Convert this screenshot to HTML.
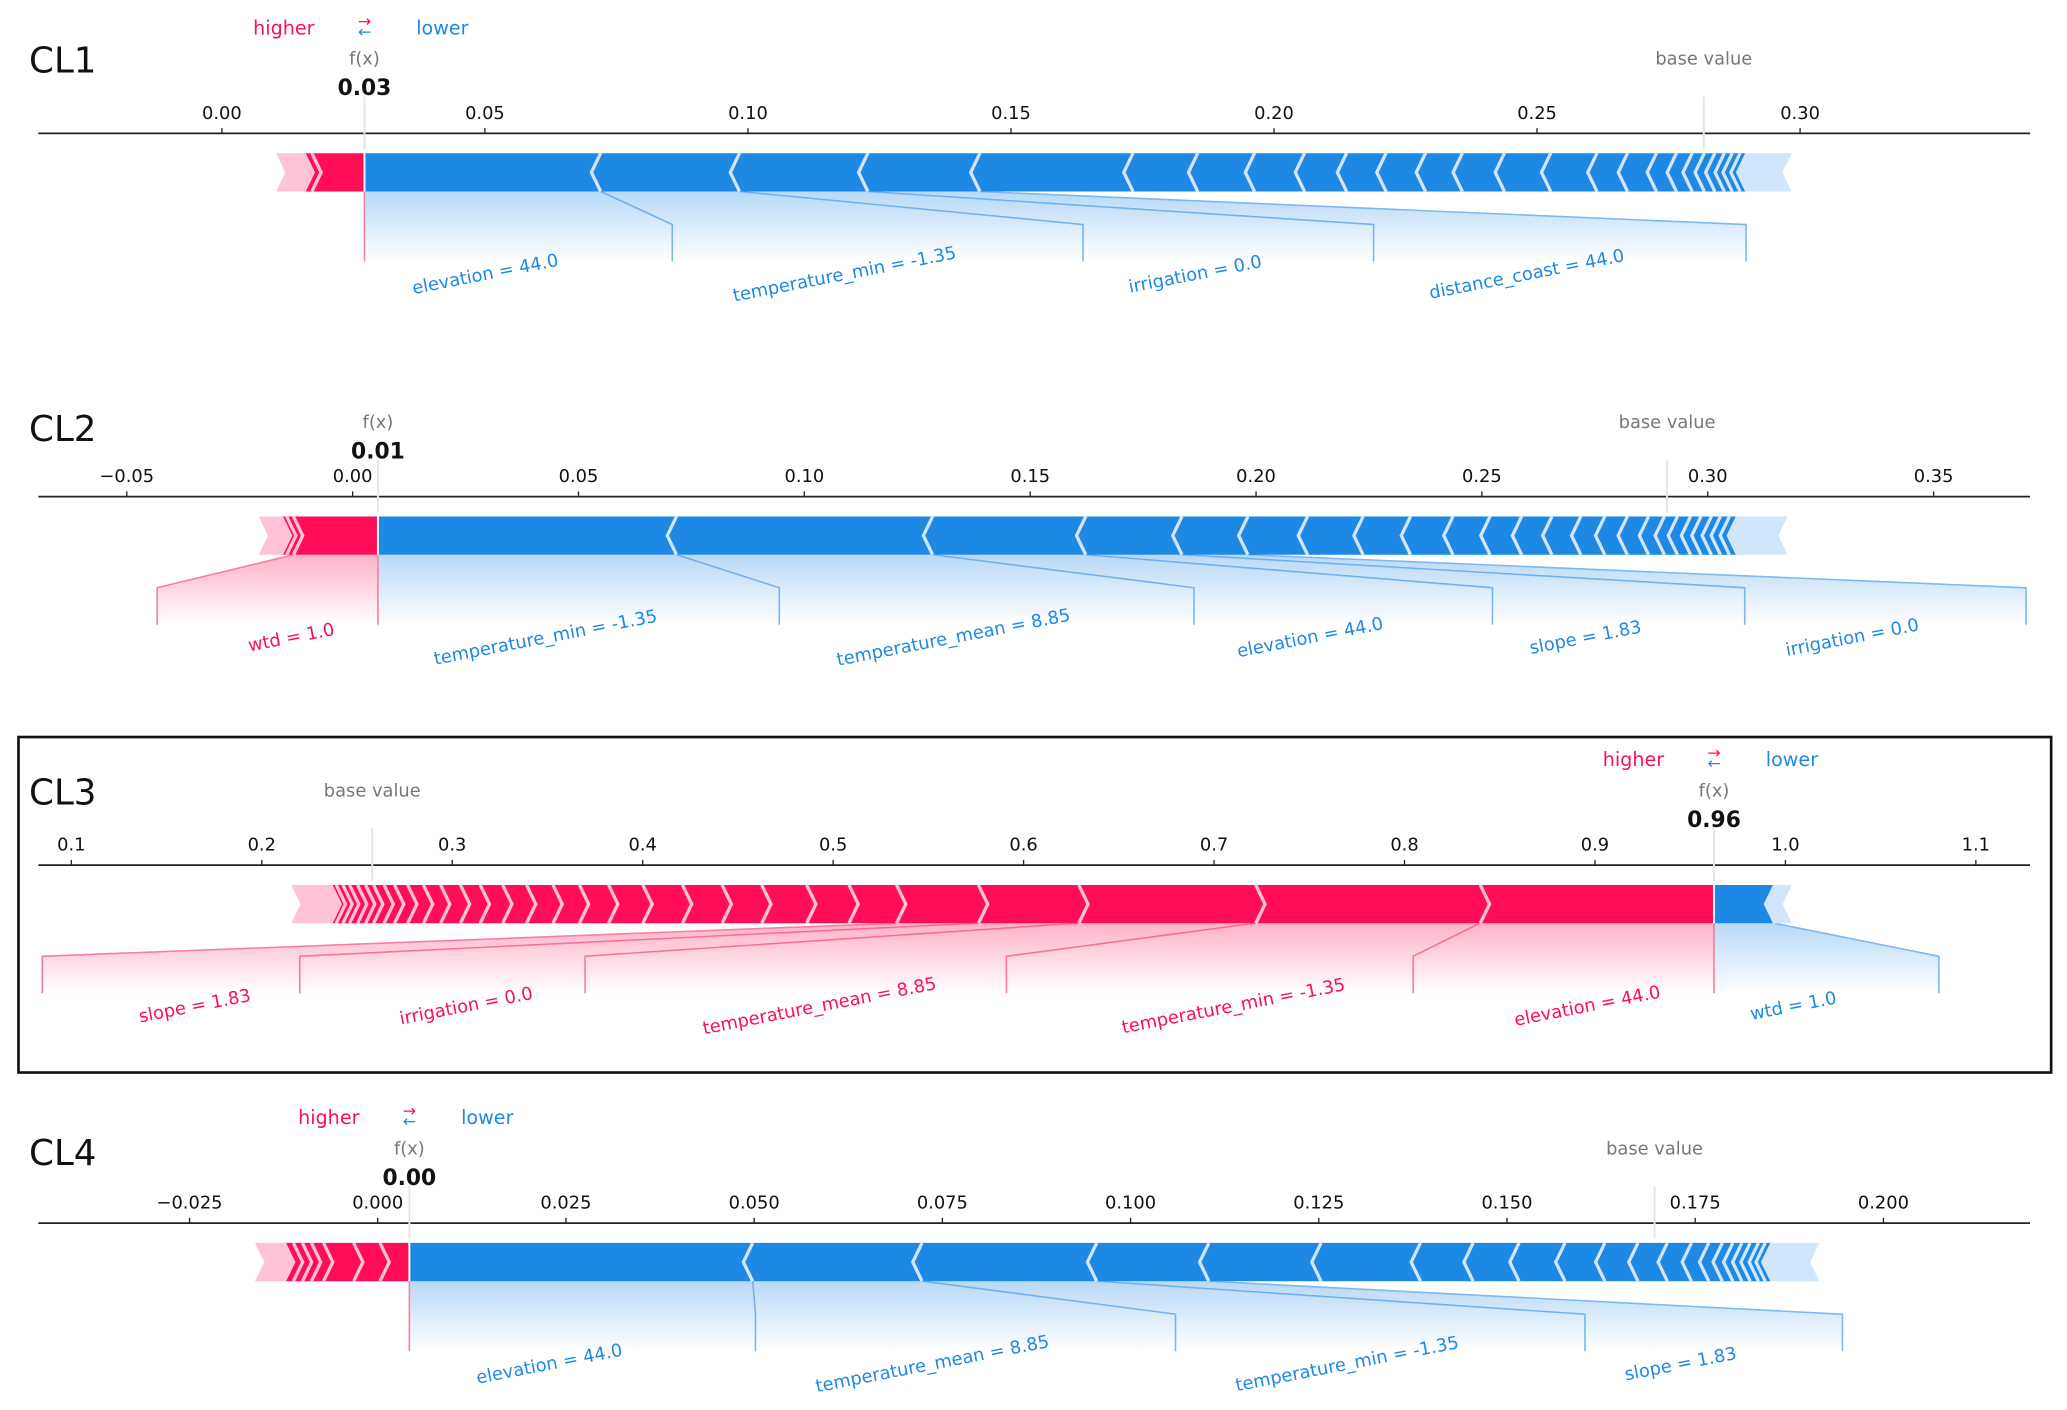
<!DOCTYPE html>
<html><head><meta charset="utf-8">
<style>
html,body{margin:0;padding:0;background:#fff;}
svg{display:block;font-family:"DejaVu Sans","Liberation Sans",sans-serif;}
</style></head>
<body>
<svg id="chart" width="2067" height="1410" viewBox="0 0 1565 1067.5" preserveAspectRatio="none" xmlns="http://www.w3.org/2000/svg">
<defs>
<linearGradient id="gBlue" x1="0" y1="0" x2="0" y2="1"><stop offset="0" stop-color="#1e88e5" stop-opacity="0.32"/><stop offset="1" stop-color="#1e88e5" stop-opacity="0"/></linearGradient>
<linearGradient id="gRed" x1="0" y1="0" x2="0" y2="1"><stop offset="0" stop-color="#ff0d57" stop-opacity="0.32"/><stop offset="1" stop-color="#ff0d57" stop-opacity="0"/></linearGradient>
</defs>
<rect x="14" y="558" width="1539" height="254" fill="none" stroke="#111" stroke-width="2"/>
</svg>
<script>
// ---- data ----
const c1Ticks = [0, 0.05, 0.10, 0.15, 0.20, 0.25, 0.30];
const c1TickLabels = ["0.00","0.05","0.10","0.15","0.20","0.25","0.30"];
const c1Fx = 0.0271, c1Base = 0.2817;
const c1Blue = [0.0449,0.0264,0.0244,0.0213,0.0291,0.0123,0.0108,0.0095,0.0080,0.0075,0.0075,0.0070,0.0080,0.0088,0.0088,0.0058,0.0055,0.0038,0.0030,0.0023,0.0020,0.0018,0.0015,0.0015,0.0013];
const c1BlueRest = 0.0085;
const c1BlueNames = ["elevation = 44.0","temperature_min = -1.35","irrigation = 0.0","distance_coast = 44.0"];
const c1Red = [0.0100,0.0015];
const c1RedRest = 0.0053;
const c1RedNames = [];

const c2Ticks = [-0.05,0,0.05,0.10,0.15,0.20,0.25,0.30,0.35];
const c2TickLabels = ["\u22120.05","0.00","0.05","0.10","0.15","0.20","0.25","0.30","0.35"];
const c2Fx = 0.0056, c2Base = 0.291;
const c2Blue = [0.0661,0.0567,0.0339,0.0213,0.0146,0.0132,0.0123,0.0105,0.0094,0.0082,0.0070,0.0067,0.0064,0.0053,0.0050,0.0047,0.0035,0.0029,0.0029,0.0023,0.0023,0.0020,0.0020,0.0018];
const c2BlueRest = 0.0111;
const c2BlueNames = ["temperature_min = -1.35","temperature_mean = 8.85","elevation = 44.0","slope = 1.83","irrigation = 0.0"];
const c2Red = [0.0187,0.0015,0.0012];
const c2RedRest = 0.0050;
const c2RedNames = ["wtd = 1.0"];

const c3Ticks = [0.1,0.2,0.3,0.4,0.5,0.6,0.7,0.8,0.9,1.0,1.1];
const c3TickLabels = ["0.1","0.2","0.3","0.4","0.5","0.6","0.7","0.8","0.9","1.0","1.1"];
const c3Fx = 0.9625, c3Base = 0.258;
const c3Red = [0.1227,0.1179,0.0929,0.0527,0.0430,0.0250,0.0222,0.0236,0.0208,0.0208,0.0208,0.0180,0.0153,0.0139,0.0139,0.0125,0.0118,0.0104,0.0104,0.0090,0.0083,0.0069,0.0055,0.0055,0.0042,0.0042,0.0042,0.0035,0.0035,0.0028];
const c3RedRest = 0.0208;
const c3RedNames = ["elevation = 44.0","temperature_min = -1.35","temperature_mean = 8.85","irrigation = 0.0","slope = 1.83"];
const c3Blue = [0.0319];
const c3BlueRest = 0.0090;
const c3BlueNames = ["wtd = 1.0"];

const c4Ticks = [-0.025,0,0.025,0.05,0.075,0.1,0.125,0.15,0.175,0.2];
const c4TickLabels = ["\u22120.025","0.000","0.025","0.050","0.075","0.100","0.125","0.150","0.175","0.200"];
const c4Fx = 0.0042, c4Base = 0.1696;
const c4Blue = [0.0456,0.0225,0.0232,0.0149,0.0149,0.0132,0.0070,0.0061,0.0061,0.0053,0.0044,0.0039,0.0032,0.0023,0.0018,0.0014,0.0012,0.0011,0.0011,0.0009,0.0009];
const c4BlueRest = 0.0063;
const c4BlueNames = ["elevation = 44.0","temperature_mean = 8.85","temperature_min = -1.35","slope = 1.83"];
const c4Red = [0.0039,0.0035,0.0040,0.0016,0.0012,0.0012,0.0012];
const c4RedRest = 0.0039;
const c4RedNames = [];

// ---- layout (pixel config, not data) ----
const charts = [
 {id:"cl1",title:"CL1",axisY:101,x0:168,k:3983,ticks:c1Ticks,tl:c1TickLabels,fx:c1Fx,fxLabel:"0.03",base:c1Base,blue:c1Blue,blueRest:c1BlueRest,blueNames:c1BlueNames,red:c1Red,redRest:c1RedRest,redNames:c1RedNames,
  blueLabelEnds:[509,820,1040,1322],redLabelEnds:[],legend:true,titleY:45},
 {id:"cl2",title:"CL2",axisY:376,x0:267,k:3420,ticks:c2Ticks,tl:c2TickLabels,fx:c2Fx,fxLabel:"0.01",base:c2Base,blue:c2Blue,blueRest:c2BlueRest,blueNames:c2BlueNames,red:c2Red,redRest:c2RedRest,redNames:c2RedNames,
  blueLabelEnds:[590,904,1130,1321,1534],redLabelEnds:[119],legend:false,titleY:324},
 {id:"cl3",title:"CL3",axisY:655,x0:-90.2,k:1442,ticks:c3Ticks,tl:c3TickLabels,fx:c3Fx,fxLabel:"0.96",base:c3Base,blue:c3Blue,blueRest:c3BlueRest,blueNames:c3BlueNames,red:c3Red,redRest:c3RedRest,redNames:c3RedNames,
  blueLabelEnds:[1468],redLabelEnds:[1070,762,443,227,32],legend:true,titleY:599},
 {id:"cl4",title:"CL4",axisY:926,x0:286,k:5700,ticks:c4Ticks,tl:c4TickLabels,fx:c4Fx,fxLabel:"0.00",base:c4Base,blue:c4Blue,blueRest:c4BlueRest,blueNames:c4BlueNames,red:c4Red,redRest:c4RedRest,redNames:c4RedNames,
  blueLabelEnds:[572,890,1200,1395],redLabelEnds:[],legend:true,titleY:872}
];
const RED="#ff0d57",BLUE="#1e88e5",LRED="#ffc3d5",LBLUE="#d1e6fa";
const svg=document.getElementById('chart');
const NS="http://www.w3.org/2000/svg";
function mk(tag,attrs,parent){const e=document.createElementNS(NS,tag);for(const a in attrs)e.setAttribute(a,attrs[a]);(parent||svg).appendChild(e);return e;}
function txt(s,attrs,parent){const e=mk('text',attrs,parent);e.textContent=s;return e;}

charts.forEach(c=>{
 const g=mk('g',{});
 
 
 const X=v=>c.x0+v*c.k;
 const ay=c.axisY, top=ay+15, bot=ay+44, mid=(top+bot)/2, lm=ay+69, lb=ay+97, d=7;
 const t=txt(c.title,{x:22,y:c.titleY+10,'font-size':27,fill:'#111'},g);
 
 
 const ax=mk('line',{x1:29,x2:1537,y1:ay,y2:ay,stroke:'#222','stroke-width':1.3},g);
 
 
 c.ticks.forEach((tv,i)=>{
  const x=X(tv);
  const tk=mk('line',{x1:x,x2:x,y1:ay-4,y2:ay,stroke:'#222','stroke-width':1},g);
  
  
  const tl=txt(c.tl[i],{x:x,y:ay-11,'text-anchor':'middle','font-size':13.5,fill:'#111'},g);
  
  
 });
 const fxX=X(c.fx), bX=X(c.base);
 mk('line',{x1:bX,x2:bX,y1:ay-28,y2:ay+12,stroke:'#e6e6e6','stroke-width':1.5},g);
 mk('line',{x1:fxX,x2:fxX,y1:ay-28,y2:ay+12,stroke:'#e6e6e6','stroke-width':1.5},g);
 const bl=txt('base value',{x:bX,y:ay-52,'text-anchor':'middle','font-size':13.5,fill:'#777'},g);
 
 
 const fl=txt('f(x)',{x:fxX,y:ay-52,'text-anchor':'middle','font-size':13.5,fill:'#777'},g);
 
 
 const fv=txt(c.fxLabel,{x:fxX,y:ay-29,'text-anchor':'middle','font-size':16.5,'font-weight':'bold',fill:'#111'},g);
 
 
 if(c.legend){
  const ly=ay-75;
  const h=txt('higher',{x:fxX-61,y:ly,'text-anchor':'middle','font-size':14.5,fill:RED},g);
  
  
  txt('\u2192',{x:fxX,y:ly-6,'text-anchor':'middle','font-size':12,fill:RED},g);
  txt('\u2190',{x:fxX,y:ly+2,'text-anchor':'middle','font-size':12,fill:BLUE},g);
  const lo=txt('lower',{x:fxX+59,y:ly,'text-anchor':'middle','font-size':14.5,fill:BLUE},g);
  
  
 }
 const bb=[fxX]; let acc=c.fx;
 c.blue.forEach(v=>{acc+=v;bb.push(X(acc));});
 const bEnd=X(acc+c.blueRest);
 const rb=[fxX]; acc=c.fx;
 c.red.forEach(v=>{acc-=v;rb.push(X(acc));});
 const rEnd=X(acc-c.redRest);
 c.blueNames.forEach((n,i)=>{
  const s=bb[i], e=bb[i+1], ls=i===0?fxX:c.blueLabelEnds[i-1], le=c.blueLabelEnds[i];
  mk('polygon',{points:`${s},${bot} ${e},${bot} ${le},${lm} ${le},${lb} ${ls},${lb} ${ls},${lm}`,fill:'url(#gBlue)'},g);
  mk('polyline',{points:`${e},${bot} ${le},${lm} ${le},${lb}`,fill:'none',stroke:'#7db8f0','stroke-width':1.2},g);
  const cx=(ls+le)/2-25;
  const lab=txt(n,{x:cx,y:lb+14,'text-anchor':'middle','font-size':13.5,fill:BLUE,transform:`rotate(-11 ${cx} ${lb+10})`},g);
  
  
 });
 c.redNames.forEach((n,i)=>{
  const s=rb[i], e=rb[i+1], ls=i===0?fxX:c.redLabelEnds[i-1], le=c.redLabelEnds[i];
  mk('polygon',{points:`${s},${bot} ${e},${bot} ${le},${lm} ${le},${lb} ${ls},${lb} ${ls},${lm}`,fill:'url(#gRed)'},g);
  mk('polyline',{points:`${e},${bot} ${le},${lm} ${le},${lb}`,fill:'none',stroke:'#f77fa0','stroke-width':1.2},g);
  const cx=(ls+le)/2+18;
  const lab=txt(n,{x:cx,y:lb+14,'text-anchor':'middle','font-size':13.5,fill:RED,transform:`rotate(-11 ${cx} ${lb+10})`},g);
  
  
 });
 mk('line',{x1:fxX,x2:fxX,y1:bot,y2:lb,stroke:'#f77fa0','stroke-width':1.2},g);
 const bLast=bb[bb.length-1], rLast=rb[rb.length-1];
 const bt=mk('polygon',{points:`${bLast},${top} ${bEnd},${top} ${bEnd-d},${mid} ${bEnd},${bot} ${bLast},${bot} ${bLast-d},${mid}`,fill:LBLUE},g);
 
 
 const rt=mk('polygon',{points:`${rLast},${top} ${rEnd},${top} ${rEnd+d},${mid} ${rEnd},${bot} ${rLast},${bot} ${rLast+d},${mid}`,fill:LRED},g);
 
 
 for(let i=0;i<c.blue.length;i++){
  const s=bb[i],e=bb[i+1];
  const p=mk('polygon',{points:i===0?`${s},${top} ${e},${top} ${e-d},${mid} ${e},${bot} ${s},${bot}`:`${s},${top} ${e},${top} ${e-d},${mid} ${e},${bot} ${s},${bot} ${s-d},${mid}`,fill:BLUE},g);
  
  
 }
 for(let i=0;i<c.red.length;i++){
  const s=rb[i],e=rb[i+1];
  const p=mk('polygon',{points:i===0?`${s},${top} ${e},${top} ${e+d},${mid} ${e},${bot} ${s},${bot}`:`${s},${top} ${e},${top} ${e+d},${mid} ${e},${bot} ${s},${bot} ${s+d},${mid}`,fill:RED},g);
  
  
 }
 for(let i=1;i<bb.length;i++){const x=bb[i];mk('polyline',{points:`${x},${top} ${x-d},${mid} ${x},${bot}`,fill:'none',stroke:LBLUE,'stroke-width':2.5},g);}
 for(let i=1;i<rb.length;i++){const x=rb[i];mk('polyline',{points:`${x},${top} ${x+d},${mid} ${x},${bot}`,fill:'none',stroke:LRED,'stroke-width':2.5},g);}
 mk('line',{x1:fxX,x2:fxX,y1:top,y2:bot,stroke:'#fff','stroke-width':1.5},g);
});
</script>
</body></html>
